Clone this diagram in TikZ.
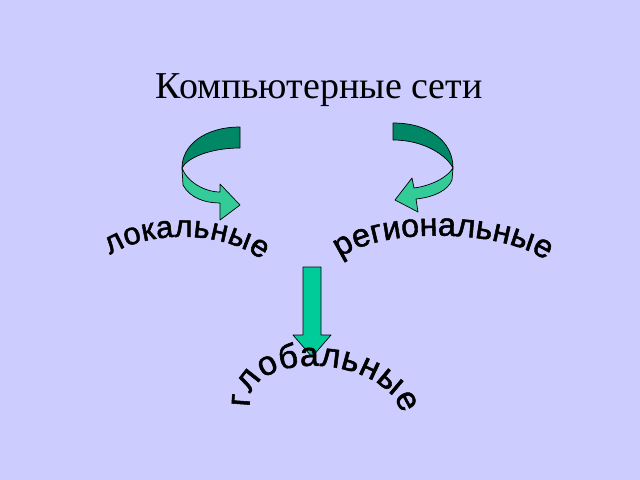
\documentclass[tikz,border=0pt]{standalone}
\usepackage{fontspec}
\setmainfont{Liberation Serif}
\newfontfamily\archfont{Liberation Sans}[FakeBold=1.6]
\usetikzlibrary{decorations.text}
\definecolor{slidebg}{HTML}{CCCCFF}
\definecolor{bandfront}{HTML}{33CC99}
\definecolor{bandback}{HTML}{008866}
\definecolor{downfill}{HTML}{00CC99}
\tikzset{
  band/.style={draw=black, line width=0.5pt, line join=round},
  arch/.style={decorate, decoration={text along path, text align={fit to path}, text={#1}}}
}
\begin{document}
\begin{tikzpicture}[x=0.025cm, y=-0.025cm]
    \fill[slidebg] (0,0) rectangle (640,480);
    \useasboundingbox (0,0) rectangle (640,480);
    \node[font=\fontsize{27}{32}\selectfont, anchor=base] (title) at (319,98) {Компьютерные сети};
    % left band
    \draw[band, fill=bandback] (240,127) .. controls (205,127) and (182,145) .. (182,168)
        .. controls (187,158) and (210,148) .. (240,148) -- cycle;
    \draw[band, fill=bandfront] (182,168) -- (183,185) .. controls (190,198) and (205,203) .. (220,203)
        -- (220,220) -- (240,205) -- (220,184) -- (220,192)
        .. controls (205,192) and (187,182) .. (182,168) -- cycle;
    % right band
    \draw[band, fill=bandback] (393,123) .. controls (430,123) and (453,142) .. (453,168)
        .. controls (447,156) and (425,140) .. (393,140) -- cycle;
    \draw[band, fill=bandfront] (453,168) -- (452,180) .. controls (448,190) and (435,197) .. (416,199)
        -- (418,212) -- (395,200) -- (412,178) -- (414,188)
        .. controls (430,186) and (447,178) .. (453,168) -- cycle;
    % down arrow
    \draw[band, fill=downfill] (303,267) -- (321,267) -- (321,335) -- (331,335)
        -- (312,357) -- (293,335) -- (303,335) -- cycle;
    % arched labels
    \archfont\fontsize{22}{27}\selectfont
    \path[arch={локальные}] (110,255) .. controls (150,230) and (222,230) .. (262,260);
    \fontsize{23}{28}\selectfont
    \path[arch={региональные}] (340,258) .. controls (380,228) and (495,228) .. (544,259);
    \fontsize{24}{29}\selectfont
    \path[arch={глобальные}] (250,407) .. controls (243,351) and (382,351) .. (402,414);
\end{tikzpicture}
\end{document}
